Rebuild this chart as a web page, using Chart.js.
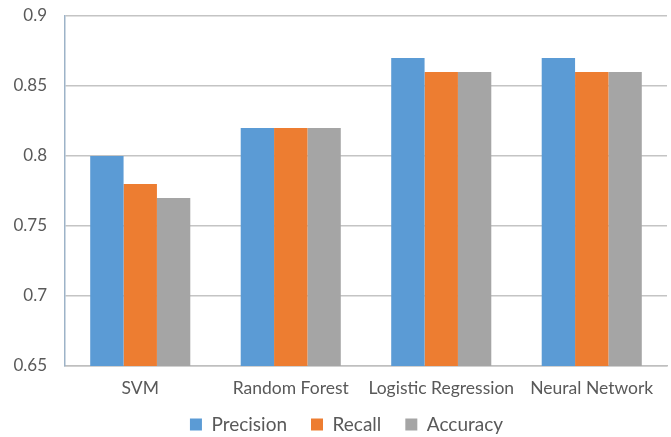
<!DOCTYPE html>
<html>
<head>
<meta charset="utf-8">
<script src="https://cdn.jsdelivr.net/npm/chart.js@4/dist/chart.umd.min.js"></script>
<style>
  html, body { margin: 0; padding: 0; background: #ffffff; }
  #wrap { width: 671px; height: 437px; }
</style>
</head>
<body>
<div id="wrap"><canvas id="chart" width="671" height="437"></canvas></div>
<script>
// Model comparison scores
const categories = ['SVM', 'Random Forest', 'Logistic Regression', 'Neural Network'];
const precision = [0.80, 0.82, 0.87, 0.87];
const recall    = [0.78, 0.82, 0.86, 0.86];
const accuracy  = [0.77, 0.82, 0.86, 0.86];
const yTicks = [0.65, 0.7, 0.75, 0.8, 0.85, 0.9];

const font = "Lato, 'Open Sans', sans-serif";
const textColor = '#595959';

// Nudge the legend box so it sits a little higher and right of the default spot
const legendNudge = {
  id: 'legendNudge',
  afterLayout(chart) {
    const lg = chart.legend;
    if (!lg) return;
    lg.top -= 7;
    lg.left += 13; lg.right += 13;
  }
};

new Chart(document.getElementById('chart'), {
  type: 'bar',
  data: {
    labels: categories,
    datasets: [
      { label: 'Precision', data: precision, backgroundColor: '#5b9bd5' },
      { label: 'Recall',    data: recall,    backgroundColor: '#ed7d31' },
      { label: 'Accuracy',  data: accuracy,  backgroundColor: '#a5a5a5' }
    ]
  },
  plugins: [legendNudge],
  options: {
    responsive: false,
    animation: false,
    devicePixelRatio: 1,
    layout: { padding: { left: 0, right: 4, top: 16, bottom: 0 } },
    datasets: { bar: { categoryPercentage: 0.665, barPercentage: 1.0 } },
    plugins: {
      tooltip: { enabled: false },
      legend: {
        position: 'bottom',
        maxHeight: 39,
        labels: {
          color: textColor,
          font: { family: font, size: 19 },
          boxWidth: 12,
          boxHeight: 12,
          padding: 24
        }
      }
    },
    scales: {
      x: {
        grid: { display: false },
        border: { color: '#bfbfbf', width: 1.5 },
        ticks: { color: textColor, font: { family: font, size: 17.5 }, padding: 4, maxRotation: 0 },
        afterFit: (scale) => { scale.height = 32; }
      },
      y: {
        min: 0.65,
        max: 0.9,
        afterBuildTicks: (axis) => { axis.ticks = yTicks.map(v => ({ value: v })); },
        afterFit: (scale) => { scale.width = 65; scale.paddingTop = 0; scale.paddingBottom = 0; },
        grid: { color: '#c4c4c4', lineWidth: 1.5, drawTicks: false },
        border: { color: '#9db3c8', width: 1.5 },
        ticks: {
          color: textColor,
          font: { family: font, size: 17 },
          padding: 18,
          callback: (v) => String(Math.round(v * 100) / 100)
        }
      }
    }
  }
});
</script>
</body>
</html>
